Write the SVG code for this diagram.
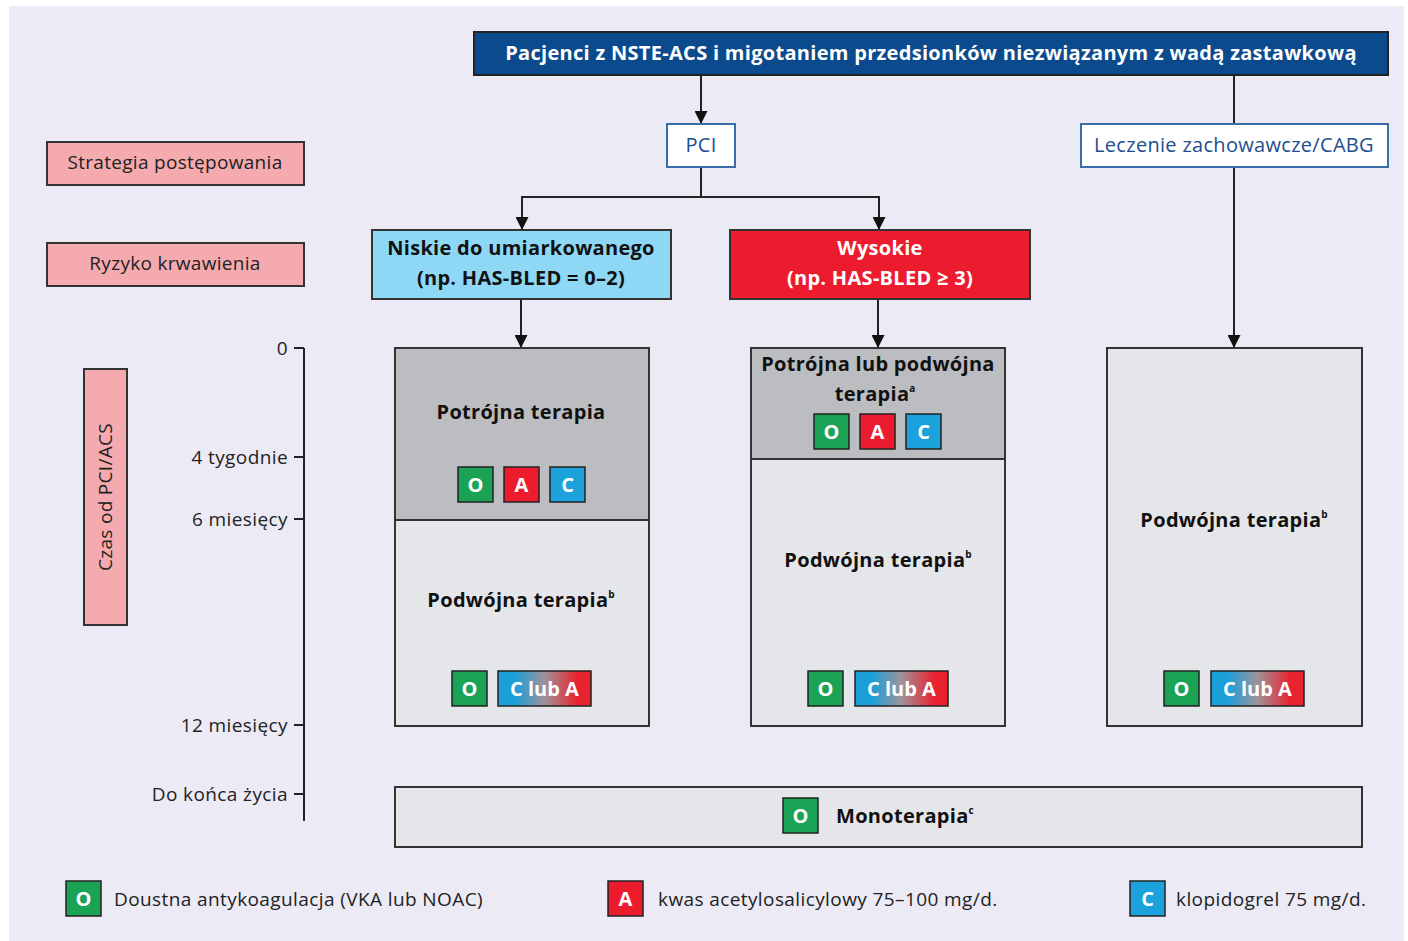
<svg xmlns="http://www.w3.org/2000/svg" width="1408" height="941" viewBox="0 0 1408 941">
<defs>
<style>
text{font-family:"Open Sans","Noto Sans","Liberation Sans",sans-serif;}
.bg{fill:#ECEAF4;}
.lbl{fill:#F5AAAF;stroke:#333;stroke-width:2;}
.lt{font-size:19px;letter-spacing:0.3px;fill:#222;text-anchor:middle;}
.ax{font-size:19px;letter-spacing:0.4px;fill:#222;text-anchor:end;}
.b{font-size:20px;letter-spacing:0.3px;font-weight:bold;fill:#111;text-anchor:middle;}
.bw{font-size:20px;letter-spacing:0.3px;font-weight:bold;fill:#fff;text-anchor:middle;}
.bt{font-size:20px;letter-spacing:0.3px;fill:#1D4E8E;text-anchor:middle;}
.sup{font-size:10px;font-weight:bold;letter-spacing:0;}
.dk{fill:#BCBDC0;stroke:#333;stroke-width:2;}
.lg{fill:#E5E6E9;stroke:#333;stroke-width:2;}
.chip{stroke:#222;stroke-width:1.5;}
.cO{fill:#1BA355;}
.cA{fill:#EC1C2E;}
.cC{fill:#1BA1DB;}
.ct{font-size:20px;font-weight:bold;fill:#fff;text-anchor:middle;}
.leg{font-size:19px;letter-spacing:0.4px;fill:#222;}
.con{fill:none;stroke:#222;stroke-width:2;}
</style>
<marker id="ah" viewBox="0 0 10 10" refX="10" refY="5" markerWidth="6.5" markerHeight="6.5" markerUnits="strokeWidth" orient="auto">
<path d="M0,0 L10,5 L0,10 Z" fill="#111"/>
</marker>
<linearGradient id="gr" x1="0" y1="0" x2="1" y2="0">
<stop offset="0" stop-color="#1A9FD9"/>
<stop offset="0.18" stop-color="#1A9FD9"/>
<stop offset="0.5" stop-color="#A0939A"/>
<stop offset="0.85" stop-color="#E8232F"/>
<stop offset="1" stop-color="#E8232F"/>
</linearGradient>
</defs>

<rect class="bg" x="9" y="6" width="1395" height="935"/>

<g id="connectors">
<path class="con" d="M701,75 V124" marker-end="url(#ah)"/>
<path class="con" d="M1234,75 V124"/>
<path class="con" d="M1234,167 V348" marker-end="url(#ah)"/>
<path class="con" d="M701,167 V197 H522 V230" marker-end="url(#ah)"/>
<path class="con" d="M701,197 H879 V230" marker-end="url(#ah)"/>
<path class="con" d="M521,299 V348" marker-end="url(#ah)"/>
<path class="con" d="M878,299 V348" marker-end="url(#ah)"/>
</g>

<g id="title">
<rect x="474" y="32" width="914" height="43" fill="#0B4A8C" stroke="#222" stroke-width="2"/>
<text class="bw" x="931" y="60">Pacjenci z NSTE-ACS i migotaniem przedsionków niezwiązanym z wadą zastawkową</text>
</g>

<g id="pci">
<rect x="667" y="124" width="68" height="43" fill="#fff" stroke="#3B6EA8" stroke-width="2"/>
<text class="bt" x="701" y="152">PCI</text>
</g>

<g id="leczenie">
<rect x="1081" y="124" width="307" height="43" fill="#fff" stroke="#3B6EA8" stroke-width="2"/>
<text class="bt" x="1234" y="152">Leczenie zachowawcze/CABG</text>
</g>

<g id="lbl-strategia">
<rect class="lbl" x="47" y="142" width="257" height="43"/>
<text class="lt" x="175" y="169">Strategia postępowania</text>
</g>

<g id="lbl-ryzyko">
<rect class="lbl" x="47" y="243" width="257" height="43"/>
<text class="lt" x="175" y="270">Ryzyko krwawienia</text>
</g>

<g id="lbl-czas">
<rect class="lbl" x="84" y="369" width="43" height="256"/>
<text class="lt" transform="translate(112,497) rotate(-90)" x="0" y="0">Czas od PCI/ACS</text>
</g>

<g id="axis">
<path class="con" d="M304,348 V821 M294,348 H304 M294,457 H304 M294,519 H304 M294,725 H304 M294,794 H304"/>
<text class="ax" x="288" y="355">0</text>
<text class="ax" x="288" y="464">4 tygodnie</text>
<text class="ax" x="288" y="526">6 miesięcy</text>
<text class="ax" x="288" y="732">12 miesięcy</text>
<text class="ax" x="288" y="801">Do końca życia</text>
</g>

<g id="niskie">
<rect x="372" y="230" width="299" height="69" fill="#8ED8F6" stroke="#333" stroke-width="2"/>
<text class="b" x="521" y="255">Niskie do umiarkowanego</text>
<text class="b" x="521" y="285">(np. HAS-BLED = 0–2)</text>
</g>

<g id="wysokie">
<rect x="730" y="230" width="300" height="69" fill="#EC1C2E" stroke="#333" stroke-width="2"/>
<text class="bw" x="880" y="255">Wysokie</text>
<text class="bw" x="880" y="285">(np. HAS-BLED ≥ 3)</text>
</g>

<g id="col-low">
<rect class="lg" x="395" y="348" width="254" height="378"/>
<rect class="dk" x="395" y="348" width="254" height="172"/>
<text class="b" x="521" y="419">Potrójna terapia</text>
<rect class="chip cO" x="458" y="467" width="35" height="35"/><text class="ct" x="475.5" y="492">O</text>
<rect class="chip cA" x="504" y="467" width="35" height="35"/><text class="ct" x="521.5" y="492">A</text>
<rect class="chip cC" x="550" y="467" width="35" height="35"/><text class="ct" x="567.5" y="492">C</text>
<text class="b" x="521" y="607">Podwójna terapia<tspan class="sup" dy="-9">b</tspan></text>
<rect class="chip cO" x="452" y="671" width="35" height="35"/><text class="ct" x="469.5" y="696">O</text>
<rect class="chip" fill="url(#gr)" x="498" y="671" width="93" height="35"/><text class="ct" x="544.5" y="696">C lub A</text>
</g>

<g id="col-high">
<rect class="lg" x="751" y="348" width="254" height="378"/>
<rect class="dk" x="751" y="348" width="254" height="111"/>
<text class="b" x="878" y="371">Potrójna lub podwójna</text>
<text class="b" x="875" y="401">terapia<tspan class="sup" dy="-9">a</tspan></text>
<rect class="chip cO" x="814" y="414" width="35" height="35"/><text class="ct" x="831.5" y="439">O</text>
<rect class="chip cA" x="860" y="414" width="35" height="35"/><text class="ct" x="877.5" y="439">A</text>
<rect class="chip cC" x="906" y="414" width="35" height="35"/><text class="ct" x="923.5" y="439">C</text>
<text class="b" x="878" y="567">Podwójna terapia<tspan class="sup" dy="-9">b</tspan></text>
<rect class="chip cO" x="808" y="671" width="35" height="35"/><text class="ct" x="825.5" y="696">O</text>
<rect class="chip" fill="url(#gr)" x="855" y="671" width="93" height="35"/><text class="ct" x="901.5" y="696">C lub A</text>
</g>

<g id="col-cons">
<rect class="lg" x="1107" y="348" width="255" height="378"/>
<text class="b" x="1234" y="527">Podwójna terapia<tspan class="sup" dy="-9">b</tspan></text>
<rect class="chip cO" x="1164" y="671" width="35" height="35"/><text class="ct" x="1181.5" y="696">O</text>
<rect class="chip" fill="url(#gr)" x="1211" y="671" width="93" height="35"/><text class="ct" x="1257.5" y="696">C lub A</text>
</g>

<g id="mono">
<rect class="lg" x="395" y="787" width="967" height="60"/>
<rect class="chip cO" x="783" y="798" width="35" height="35"/><text class="ct" x="800.5" y="823">O</text>
<text class="b" x="836" y="823" style="text-anchor:start">Monoterapia<tspan class="sup" dy="-9">c</tspan></text>
</g>

<g id="legend">
<rect class="chip cO" x="66" y="881" width="35" height="35"/><text class="ct" x="83.5" y="906">O</text>
<text class="leg" x="114" y="906">Doustna antykoagulacja (VKA lub NOAC)</text>
<rect class="chip cA" x="608" y="881" width="35" height="35"/><text class="ct" x="625.5" y="906">A</text>
<text class="leg" x="658" y="906">kwas acetylosalicylowy 75–100 mg/d.</text>
<rect class="chip cC" x="1130" y="881" width="35" height="35"/><text class="ct" x="1147.5" y="906">C</text>
<text class="leg" x="1176" y="906">klopidogrel 75 mg/d.</text>
</g>
</svg>
